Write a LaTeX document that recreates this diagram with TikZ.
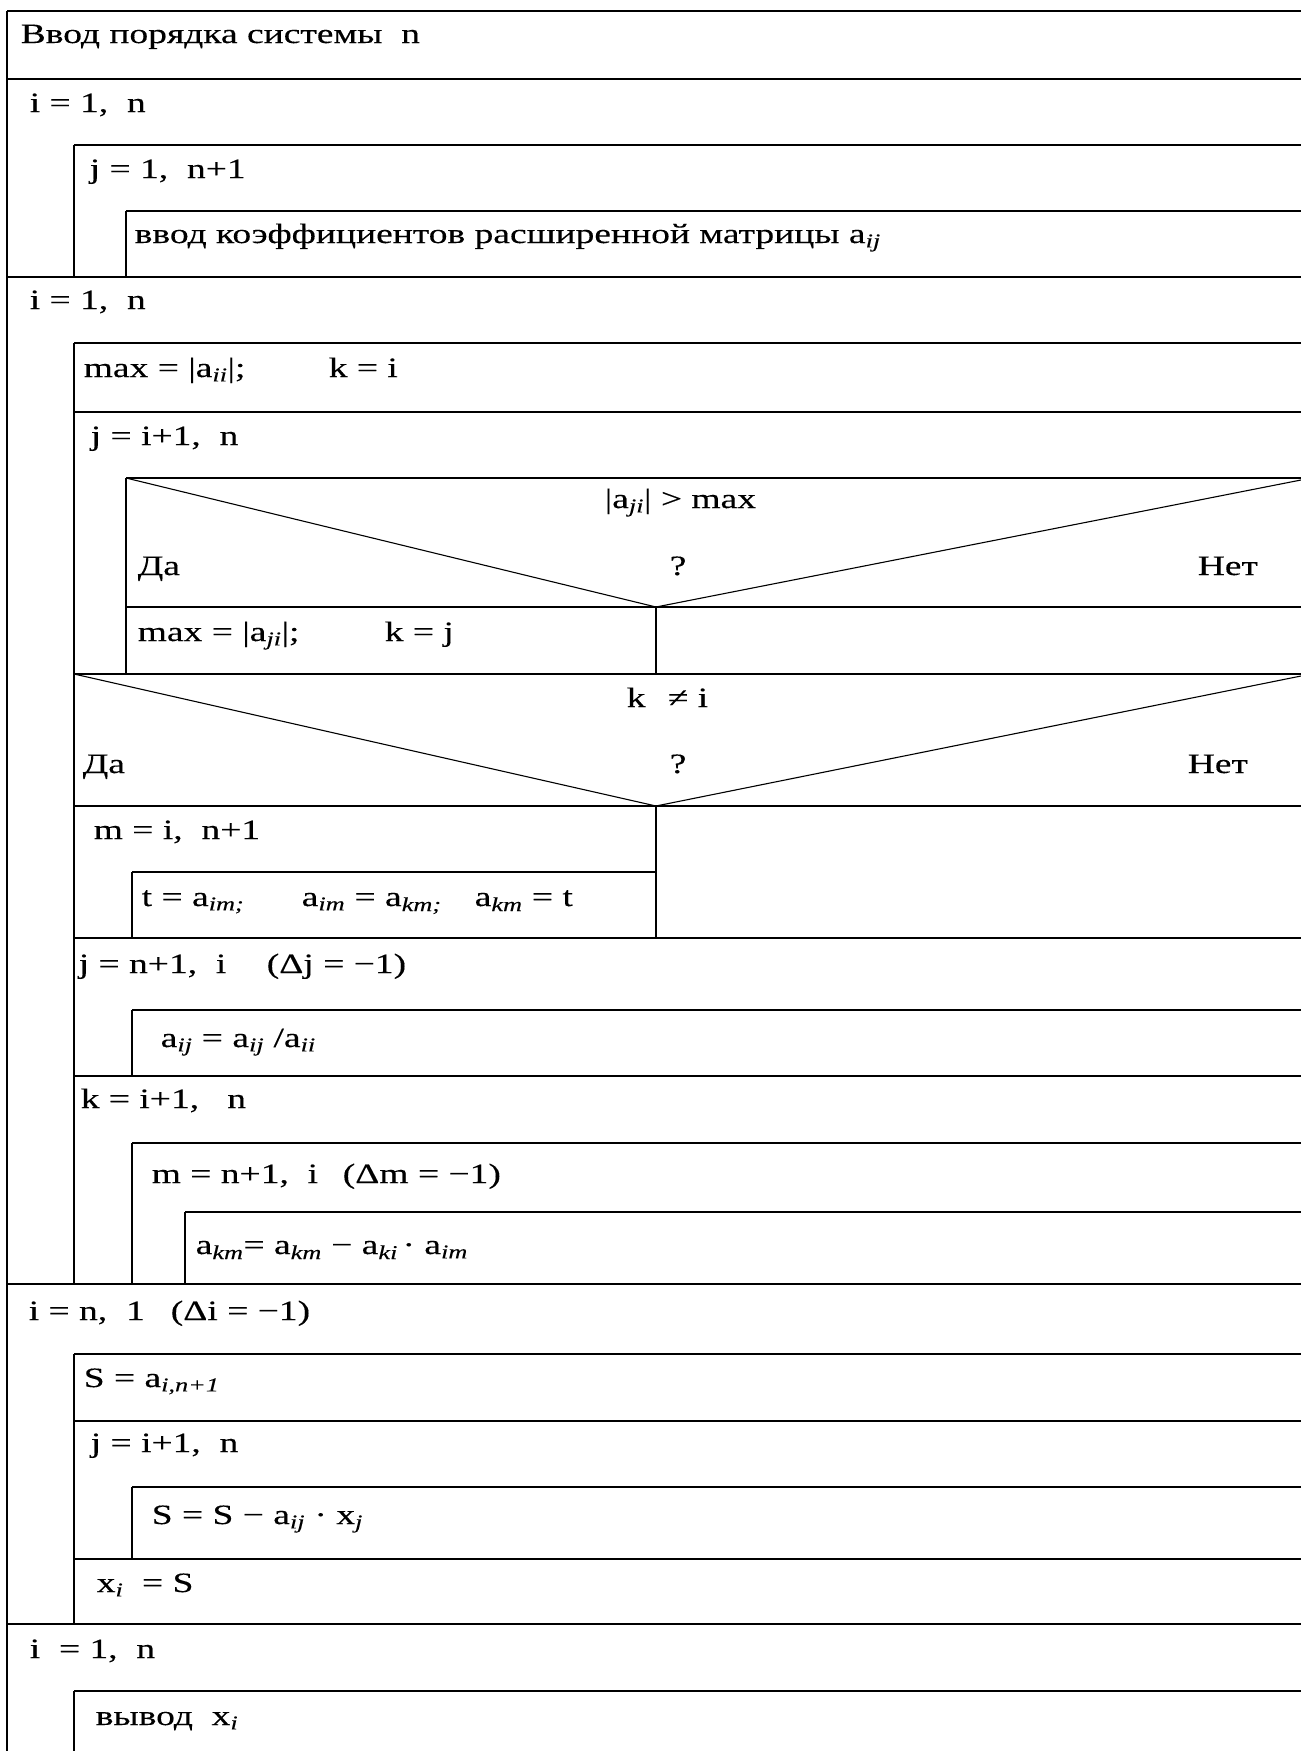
\documentclass[tikz,border=0pt]{standalone}
\usepackage{fontspec}
\setmainfont{Liberation Serif}[FakeStretch=1.34,FakeBold=0.25]
\newcommand\subx[1]{\textsubscript{\itshape #1}}
\begin{document}
\begin{tikzpicture}[x=1pt,y=-1pt,line width=1.5pt,
  txt/.style={anchor=base west,inner sep=0pt,font=\fontsize{28}{30}\selectfont},
  diag/.style={line width=1.1pt}]
\def\R{1301}
\fill[white] (0,0) rectangle (1301,1751);
\useasboundingbox (0,0) rectangle (1301,1751);
% frame lines
\draw (7,11) -- (\R,11);
\draw (7,11) -- (7,1751);
\draw (7,79) -- (\R,79);
\draw (74,145) -- (\R,145); \draw (74,145) -- (74,277);
\draw (126,211) -- (\R,211); \draw (126,211) -- (126,277);
\draw (7,277) -- (\R,277);
\draw (74,343) -- (\R,343); \draw (74,343) -- (74,1284);
\draw (74,412) -- (\R,412);
\draw (126,478) -- (\R,478); \draw (126,478) -- (126,674);
\draw[diag] (126,478) -- (656,607) -- (\R,480);
\draw (126,607) -- (\R,607); \draw (656,607) -- (656,674);
\draw (74,674) -- (\R,674);
\draw[diag] (74,674) -- (656,806) -- (\R,676);
\draw (74,806) -- (\R,806); \draw (656,806) -- (656,938);
\draw (132,872) -- (656,872); \draw (132,872) -- (132,938);
\draw (74,938) -- (\R,938);
\draw (132,1010) -- (\R,1010); \draw (132,1010) -- (132,1076);
\draw (74,1076) -- (\R,1076);
\draw (132,1143) -- (\R,1143); \draw (132,1143) -- (132,1284);
\draw (185,1212) -- (\R,1212); \draw (185,1212) -- (185,1284);
\draw (7,1284) -- (\R,1284);
\draw (74,1354) -- (\R,1354); \draw (74,1354) -- (74,1624);
\draw (74,1421) -- (\R,1421);
\draw (132,1487) -- (\R,1487); \draw (132,1487) -- (132,1559);
\draw (74,1559) -- (\R,1559);
\draw (7,1624) -- (\R,1624);
\draw (74,1691) -- (\R,1691); \draw (74,1691) -- (74,1751);
% texts
\node[txt] (t1) at (20,43) {Ввод порядка системы\ \ n};
\node[txt] (t2) at (29,112) {i = 1,\ \ n};
\node[txt] (t3) at (89,178) {j = 1,\ \ n+1};
\node[txt] (t4) at (134,243) {ввод коэффициентов расширенной матрицы a\subx{ij}};
\node[txt] (t5) at (29,309) {i = 1,\ \ n};
\node[txt] (t6) at (83,377) {max = |a\subx{ii}|;};
\node[txt] (t6b) at (328,377) {k = i};
\node[txt] (t7) at (90,445) {j = i+1,\ \ n};
\node[txt] (t8) at (604,508) {|a\subx{ji}| > max};
\node[txt] (t9) at (137,575) {Да};
\node[txt] (t10) at (669,575) {?};
\node[txt] (t11) at (1197,575) {Нет};
\node[txt] (t12) at (137,641) {max = |a\subx{ji}|;};
\node[txt] (t12b) at (384,641) {k = j};
\node[txt] (t13) at (626,707) {k};
\node[txt] (t13b) at (667,707) {≠ i};
\node[txt] (t14) at (82,773) {Да};
\node[txt] (t15) at (669,773) {?};
\node[txt] (t16) at (1187,773) {Нет};
\node[txt] (t17) at (93,839) {m = i,\ \ n+1};
\node[txt] (t18) at (141,906) {t = a\subx{im;}};
\node[txt] (t18b) at (301,906) {a\subx{im} = a\subx{km;}};
\node[txt] (t18c) at (474,906) {a\subx{km} = t};
\node[txt] (t19) at (78,973) {j = n+1,\ \ i};
\node[txt] (t19b) at (266,973) {(Δj = −1)};
\node[txt] (t20) at (160,1047) {a\subx{ij} = a\subx{ij} /a\subx{ii}};
\node[txt] (t21) at (80,1108) {k = i+1,\ \ \ n};
\node[txt] (t22) at (151,1183) {m = n+1,\ \ i};
\node[txt] (t22b) at (342,1183) {(Δm = −1)};
\node[txt] (t23) at (195,1254) {a\subx{km}= a\subx{km} − a\subx{ki}\,· a\subx{im}};
\node[txt] (t24) at (28,1320) {i = n,\ \ 1};
\node[txt] (t24b) at (170,1320) {(Δi = −1)};
\node[txt] (t25) at (83,1387) {S = a\subx{i,n+1}};
\node[txt] (t26) at (90,1452) {j = i+1,\ \ n};
\node[txt] (t27) at (151,1524) {S = S − a\subx{ij} · x\subx{j}};
\node[txt] (t28) at (96,1592) {x\subx{i}\ \ = S};
\node[txt] (t29) at (29,1658) {i\ \ = 1,\ \ n};
\node[txt] (t30) at (95,1725) {вывод\ \ x\subx{i}};
\end{tikzpicture}
\end{document}
